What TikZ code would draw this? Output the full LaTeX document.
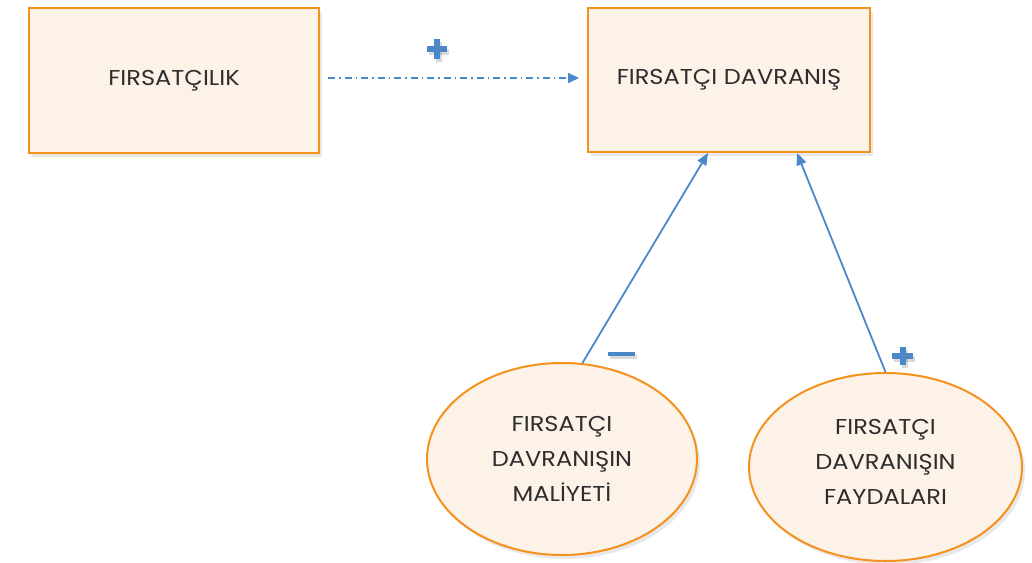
\documentclass[tikz,border=0pt]{standalone}
\usepackage{fontspec}
\setmainfont{Poppins}[FakeStretch=1.12]
\usetikzlibrary{arrows.meta,shadows,shapes.geometric,calc}
\definecolor{boxfill}{HTML}{FDF2E8}
\definecolor{boxline}{HTML}{F5921E}
\definecolor{arrblue}{HTML}{4A88CA}
\definecolor{txt}{HTML}{2E2E2E}
\tikzset{
  x=1pt,y=-1pt,
  softshadow/.style={drop shadow={opacity=0.18,shadow xshift=3pt,shadow yshift=-4pt}},
  labeltext/.style={text=txt,font=\fontsize{21.5}{35}\selectfont,align=center,inner sep=0pt},
  conceptbox/.style={draw=boxline,fill=boxfill,line width=2pt,minimum width=290pt,minimum height=145pt,labeltext,softshadow},
  conceptell/.style={ellipse,draw=boxline,fill=boxfill,line width=2pt,labeltext,softshadow},
  solidarrow/.style={draw=arrblue,line width=1.8pt,-{Triangle[length=12pt,width=10pt]}},
  dasharrow/.style={draw=arrblue,line width=1.7pt,dash pattern=on 7pt off 4pt on 1.5pt off 4pt,-{Triangle[length=11pt,width=10pt]}},
  signmark/.style={fill=arrblue,drop shadow={opacity=0.3,shadow xshift=2pt,shadow yshift=-3pt}}
}
\begin{document}
\begin{tikzpicture}
\useasboundingbox (0,0) rectangle (1032,562);
\node[conceptbox] (b1) at (174,80.5) {FIRSATÇILIK};
\node[conceptbox,minimum width=282pt,minimum height=144pt] (b2) at (729,80) {FIRSATÇI DAVRANIŞ};
\node[conceptell,minimum width=270pt,minimum height=192pt] (e1) at (562,459) {FIRSATÇI\\DAVRANIŞIN\\MALİYETİ};
\node[conceptell,minimum width=273pt,minimum height=188pt] (e2) at (885.5,467) {};
\node[labeltext] (e2text) at ($(e2.center)+(0,-5)$) {FIRSATÇI\\DAVRANIŞIN\\FAYDALARI};
% connectors
\coordinate (d1) at (328,78);
\coordinate (d2) at (579,78);
\draw[dasharrow] (d1) -- (d2);
\coordinate (t1) at ($(b2.south)+(-21,0)$);
\draw[solidarrow] (e1.78) -- (t1);
\coordinate (t2) at ($(b2.south)+(68,0)$);
\draw[solidarrow] (e2.north) -- (t2);
% signs
\fill[signmark] (427,46) rectangle (447,52);
\fill[signmark] (434,39) rectangle (440,59);
\fill[signmark] (608,351.5) rectangle (635,355.5);
\fill[signmark] (892,353) rectangle (913,359);
\fill[signmark] (899.5,347) rectangle (905.5,365);
\end{tikzpicture}
\end{document}
